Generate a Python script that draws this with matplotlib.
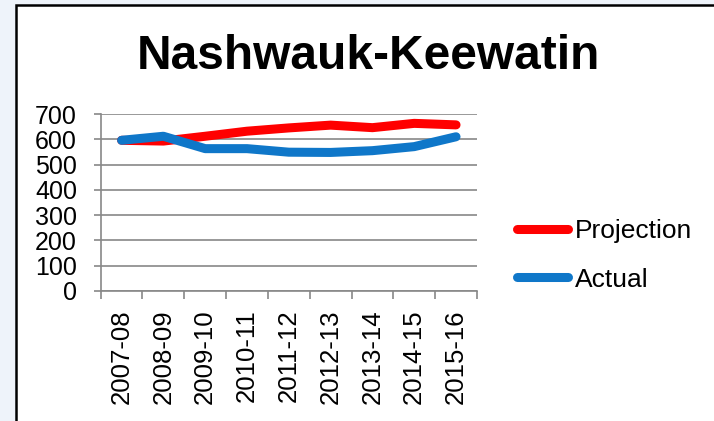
import matplotlib
matplotlib.use("Agg")
from matplotlib import pyplot as plt
from matplotlib.patches import Rectangle
import numpy as np

years = ["2007-08", "2008-09", "2009-10", "2010-11", "2011-12",
         "2012-13", "2013-14", "2014-15", "2015-16"]
projection = [596, 593, 612, 632, 645, 656, 646, 663, 657]
actual = [596, 612, 563, 563, 549, 548, 555, 571, 610]

plt.rcParams['font.family'] = ['Liberation Sans', 'DejaVu Sans']

fig = plt.figure(figsize=(7.14, 4.21), dpi=100)
fig.patch.set_facecolor('#eef3fa')

# chart frame
frame = Rectangle((16 / 714, -0.05), 1.0, 1 - 5 / 421 + 0.05, transform=fig.transFigure,
                  facecolor='white', edgecolor='black', linewidth=1.8, zorder=-5)
fig.patches.append(frame)

ax = fig.add_axes([0.141, 0.3088, 0.527, 0.4204])
ax.set_zorder(2)
ax.set_facecolor('none')
x = np.arange(len(years))
ax.plot(x, projection, color='#ff0000', lw=6.5, solid_capstyle='round',
        solid_joinstyle='round', label='Projection', zorder=3)
ax.plot(x, actual, color='#0f77c9', lw=6.5, solid_capstyle='round',
        solid_joinstyle='round', label='Actual', zorder=4)

ax.set_xlim(-0.5, len(years) - 0.5)
ax.set_ylim(0, 700)
ax.set_yticks(range(0, 701, 100))
ax.set_xticks(x)
ax.set_xticklabels(years, rotation=90, fontsize=18.5)
ax.set_xticks(np.arange(-0.5, len(years)), minor=True)
ax.tick_params(axis='x', which='major', length=0, pad=13)
ax.tick_params(axis='x', which='minor', length=6, width=1.2, color='#888888', direction='out')
ax.tick_params(axis='y', length=5, width=1.2, color='#888888', labelsize=18, pad=12)
ax.grid(True, axis='y', color='#888888', lw=1.2)
for side in ['top', 'right']:
    ax.spines[side].set_visible(False)
for side in ['left', 'bottom']:
    ax.spines[side].set_color('#888888')
    ax.spines[side].set_linewidth(1.2)

fig.text(0.516, 0.865, "Nashwauk-Keewatin", ha='center', va='center',
         fontsize=34.5, fontweight='bold')

fig.legend(loc='center left', bbox_to_anchor=(0.710, 0.393), frameon=False,
           fontsize=19, handlelength=1.93, handletextpad=0.25, labelspacing=0.92,
           borderaxespad=0)

fig.savefig('out.png', dpi=100, facecolor=fig.get_facecolor())
